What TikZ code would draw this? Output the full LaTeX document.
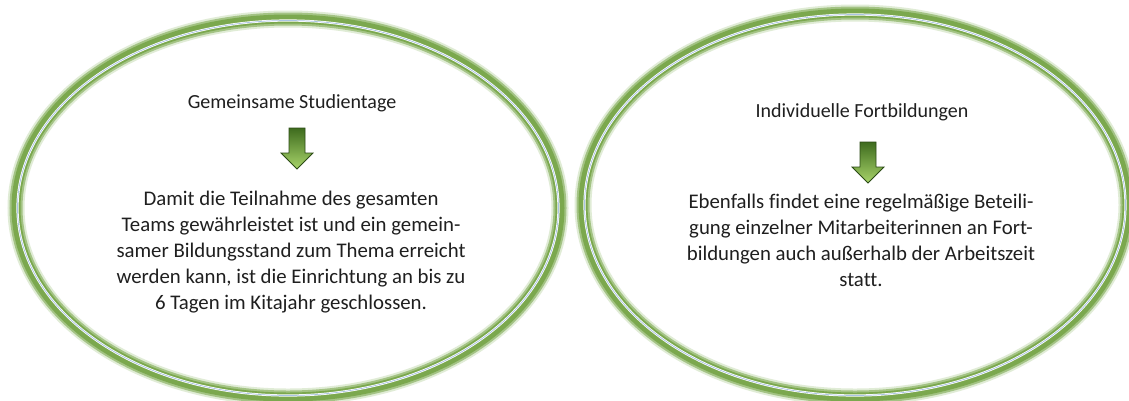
\documentclass[tikz,border=0pt]{standalone}
\usepackage{fontspec}
\setmainfont{Carlito}[Ligatures=NoCommon]
\usetikzlibrary{shapes.geometric}
\definecolor{ringgreen}{HTML}{7BA84E}
\definecolor{ringlight}{HTML}{A9C98A}
\definecolor{arrowdark}{HTML}{3E6B1E}
\definecolor{arrowlight}{HTML}{A8D46A}
\definecolor{ringblue}{HTML}{A9C4E4}
\tikzset{
  title/.style={font=\fontsize{20}{24}\selectfont, text=black!88},
  body/.style={font=\fontsize{20.8}{26}\selectfont, align=center, text=black!88},
  downarrow/.style={draw=arrowdark!70!black, line width=0.8pt, top color=arrowdark, bottom color=arrowlight, shading angle=0}
}
\newcommand{\greenring}[3]{%
  \draw[ringlight, opacity=0.35, line width=17pt] #1 ellipse [x radius=#2, y radius=#3];
  \draw[ringgreen, opacity=0.6, line width=13pt] #1 ellipse [x radius=#2, y radius=#3];
  \draw[ringgreen, line width=9pt] #1 ellipse [x radius=#2, y radius=#3];
  \draw[white, line width=2.2pt] #1 ellipse [x radius=#2-1.5, y radius=#3-1.5];
  \draw[ringblue, line width=0.7pt] #1 ellipse [x radius=#2-1.5, y radius=#3-1.5];
}
\begin{document}
\begin{tikzpicture}[x=1pt, y=-1pt]
\useasboundingbox (0,0) rectangle (1129,400);
\fill[white] (0,0) rectangle (1129,400);
\greenring{(288,208)}{272}{189}
\greenring{(855,205)}{272}{192}
% left content
\node[title] (t1) at (292,103) {Gemeinsame Studientage};
\path[downarrow] (289,128) -- (305,128) -- (305,153) -- (313,153) -- (297,169) -- (281,153) -- (289,153) -- cycle;
\node[body] (b1) at (291,252) {Damit die Teilnahme des gesamten\\Teams gewährleistet ist und ein gemein-\\samer Bildungsstand zum Thema erreicht\\werden kann, ist die Einrichtung an bis zu\\6 Tagen im Kitajahr geschlossen.};
% right content
\node[title] (t2) at (862,112) {Individuelle Fortbildungen};
\path[downarrow] (860,142) -- (876,142) -- (876,167) -- (884,167) -- (868,183) -- (852,167) -- (860,167) -- cycle;
\node[body] (b2) at (861,240) {Ebenfalls findet eine regelmäßige Beteili-\\gung einzelner Mitarbeiterinnen an Fort-\\bildungen auch außerhalb der Arbeitszeit\\statt.};
\end{tikzpicture}
\end{document}
